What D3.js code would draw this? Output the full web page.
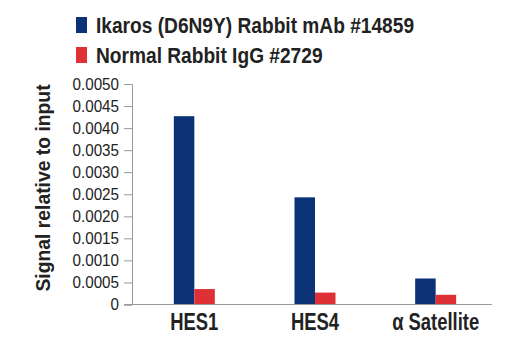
<!DOCTYPE html>
<html>
<head>
<meta charset="utf-8">
<script src="https://cdn.jsdelivr.net/npm/d3@7"></script>
<style>
  body { margin: 0; background: #fff; }
  svg { font-family: "Liberation Sans", Arial, sans-serif; }
</style>
</head>
<body>
<div id="chart"></div>
<script>
const categories = ["HES1", "HES4", "\u03b1 Satellite"];
const seriesNames = ["Ikaros (D6N9Y) Rabbit mAb #14859", "Normal Rabbit IgG #2729"];
const ikaros = [0.00427, 0.00243, 0.00059];
const igg = [0.00035, 0.00027, 0.00022];
const yTicks = [0, 0.0005, 0.001, 0.0015, 0.002, 0.0025, 0.003, 0.0035, 0.004, 0.0045, 0.005];
const colors = ["#0b3277", "#de3035"];

const width = 520, height = 350;
const svg = d3.select("#chart").append("svg")
    .attr("width", width)
    .attr("height", height);

// squeeze text horizontally to mimic a condensed face
function condense(sel, k) {
    sel.each(function () {
        const len = this.getComputedTextLength();
        d3.select(this)
            .attr("textLength", len * k)
            .attr("lengthAdjust", "spacingAndGlyphs");
    });
}

const x0 = d3.scaleBand()
    .domain(categories)
    .range([134, 496]);

const x1 = d3.scaleBand()
    .domain([0, 1])
    .range([0, 41]);

const y = d3.scaleLinear()
    .domain([0, 0.005])
    .range([304.5, 84]);

// y axis
const yAxis = svg.append("g")
    .attr("transform", "translate(132,0)")
    .call(d3.axisLeft(y).tickValues(yTicks).tickSize(8).tickPadding(5)
        .tickFormat(d => d === 0 ? "0" : d3.format(".4f")(d)));
yAxis.select(".domain").attr("stroke", "#9a9a9a");
yAxis.selectAll(".tick line").attr("stroke", "#9a9a9a");
yAxis.selectAll(".tick text")
    .attr("fill", "#222")
    .style("font-size", "16px")
    .call(condense, 0.95);

// bars
const data = categories.map((c, i) => ({ cat: c, vals: [ikaros[i], igg[i]] }));
const groups = svg.selectAll("g.group")
    .data(data)
    .enter().append("g")
    .attr("class", "group")
    .attr("transform", d => "translate(" + (x0(d.cat) + x0.bandwidth() / 2 - 20.5) + ",0)");

groups.selectAll("rect")
    .data(d => d.vals.map((v, j) => ({ v, j })))
    .enter().append("rect")
    .attr("x", d => x1(d.j))
    .attr("width", x1.bandwidth())
    .attr("y", d => y(d.v))
    .attr("height", d => y(0) - y(d.v))
    .attr("fill", d => colors[d.j]);

// x axis line
svg.append("line")
    .attr("x1", 124).attr("x2", 492)
    .attr("y1", y(0)).attr("y2", y(0))
    .attr("stroke", "#9a9a9a");

// x labels
svg.selectAll("text.xlab")
    .data(categories)
    .enter().append("text")
    .attr("class", "xlab")
    .attr("x", d => x0(d) + x0.bandwidth() / 2)
    .attr("y", 330)
    .attr("text-anchor", "middle")
    .style("font-size", "23px")
    .style("font-weight", "bold")
    .attr("fill", "#222")
    .text(d => d)
    .call(condense, 0.8);

// y title
svg.append("text")
    .attr("transform", "translate(50,188) rotate(-90)")
    .attr("text-anchor", "middle")
    .style("font-size", "21px")
    .style("font-weight", "bold")
    .attr("fill", "#222")
    .text("Signal relative to input")
    .call(condense, 0.92);

// legend
const legend = svg.selectAll("g.legend")
    .data(seriesNames)
    .enter().append("g")
    .attr("class", "legend")
    .attr("transform", (d, i) => "translate(76," + (17 + i * 30) + ")");

legend.append("rect")
    .attr("width", 11)
    .attr("height", 16)
    .attr("fill", (d, i) => colors[i]);

legend.append("text")
    .attr("x", 20)
    .attr("y", 15.5)
    .style("font-size", "22px")
    .style("font-weight", "bold")
    .attr("fill", "#222")
    .text(d => d)
    .call(condense, 0.87);
</script>
</body>
</html>
